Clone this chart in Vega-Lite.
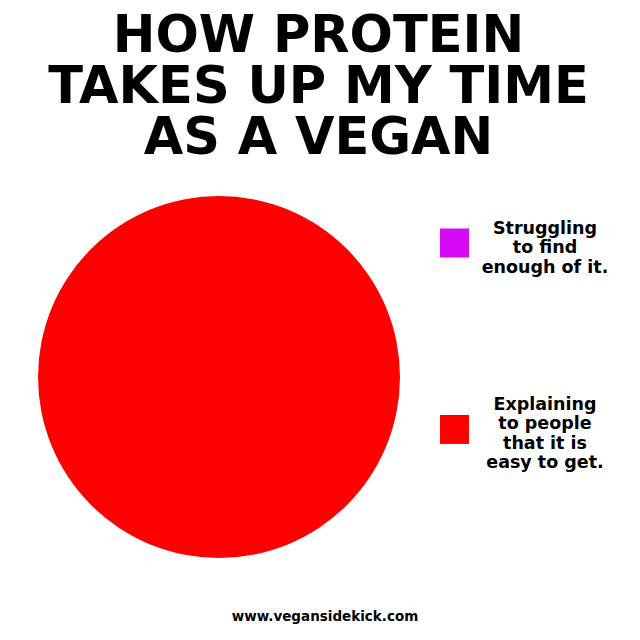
{
  "$schema": "https://vega.github.io/schema/vega-lite/v6.json",
  "background": "white",
  "padding": {"left": 38, "top": 11, "right": 0, "bottom": 0},
  "title": {
    "text": ["HOW PROTEIN", "TAKES UP MY TIME", "AS A VEGAN"],
    "font": "DejaVu Sans",
    "fontWeight": "bold",
    "fontSize": 51,
    "lineHeight": 51,
    "color": "black",
    "anchor": "middle",
    "frame": "bounds",
    "dx": -14,
    "offset": 31
  },
  "vconcat": [
    {
      "width": 362,
      "height": 362,
      "title": {
        "text": "www.vegansidekick.com",
        "orient": "bottom",
        "font": "DejaVu Sans",
        "fontWeight": "bold",
        "fontSize": 13.5,
        "color": "black",
        "anchor": "middle",
        "frame": "group",
        "dx": 106,
        "offset": 52
      },
      "data": {
        "values": [
          {"category": "Struggling|to find|enough of it.", "share": 0},
          {"category": "Explaining|to people|that it is|easy to get.", "share": 100}
        ]
      },
      "layer": [
        {
          "mark": {"type": "point", "filled": true, "opacity": 1, "size": 841},
          "encoding": {
            "color": {
              "field": "category",
              "type": "nominal",
              "sort": null,
              "scale": {
                "domain": ["Struggling|to find|enough of it.", "Explaining|to people|that it is|easy to get."],
                "range": ["#d60af7", "#fe0000"]
              },
              "legend": {
                "title": null,
                "orient": "right",
                "offset": 3,
                "padding": 18,
                "symbolSize": 841,
                "symbolStrokeWidth": 0,
                "symbolOpacity": 1,
                "labelExpr": "split(datum.label, '|')",
                "labelFont": "DejaVu Sans",
                "labelFontWeight": "bold",
                "labelFontSize": 17.5,
                "labelLineHeight": 18.5,
                "labelColor": "black",
                "labelAlign": "center",
                "labelBaseline": "middle",
                "labelOffset": 76,
                "labelLimit": 0,
                "rowPadding": 114
              }
            },
            "shape": {
              "field": "category",
              "type": "nominal",
              "sort": null,
              "scale": {
                "domain": ["Struggling|to find|enough of it.", "Explaining|to people|that it is|easy to get."],
                "range": ["M-1,0H1V2H-1Z", "M-1,0.72H1V2.72H-1Z"]
              },
              "legend": {
                "title": null,
                "orient": "right",
                "offset": 3,
                "padding": 18,
                "symbolSize": 841,
                "symbolStrokeWidth": 0,
                "symbolOpacity": 1,
                "labelExpr": "split(datum.label, '|')",
                "labelFont": "DejaVu Sans",
                "labelFontWeight": "bold",
                "labelFontSize": 17.5,
                "labelLineHeight": 18.5,
                "labelColor": "black",
                "labelAlign": "center",
                "labelBaseline": "middle",
                "labelOffset": 76,
                "labelLimit": 0,
                "rowPadding": 114
              }
            }
          }
        },
        {
          "mark": {"type": "arc"},
          "encoding": {
            "theta": {"field": "share", "type": "quantitative"},
            "color": {
              "field": "category",
              "type": "nominal",
              "sort": null
            }
          }
        }
      ]
    }
  ],
  "config": {
    "view": {"stroke": null}
  }
}
